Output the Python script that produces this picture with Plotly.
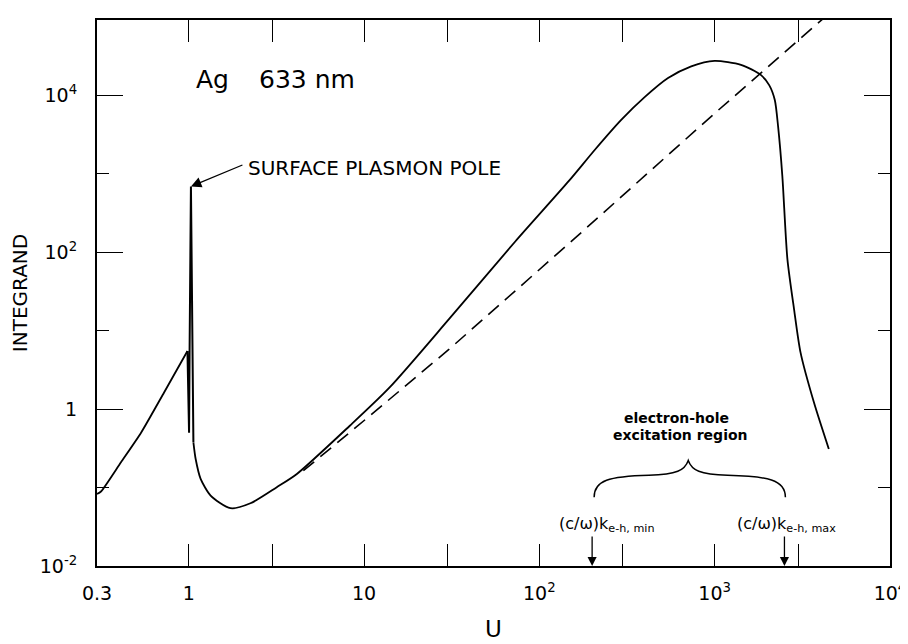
import math
import plotly.graph_objects as go

# ---------------- data ----------------
# integrand below the surface plasmon pole
u_below_pole = [0.30, 0.316, 0.411, 0.535, 0.724, 0.984]
I_below_pole = [0.083, 0.089, 0.21, 0.50, 1.63, 5.5]

# the pole itself (narrow spike)
u_pole = [0.984, 1.005, 1.012, 1.030, 1.064]
I_pole = [5.5, 0.5, 5.5, 690, 0.377]

# integrand above the pole
u_above_pole = [1.064, 1.096, 1.17, 1.334, 1.73, 2.25, 3.18, 4.14, 8.3, 14.0,
                30.6, 73.1, 147, 208, 294, 400, 542, 735, 998, 1413, 1832,
                2046, 2203, 2301, 2432, 2600, 2838, 3090, 3681, 4477]
I_above_pole = [0.377, 0.231, 0.129, 0.079, 0.0546, 0.063, 0.101, 0.149, 0.614, 1.89,
                14.1, 138, 804, 2040, 4900, 9550, 16600, 23400, 27500, 24500, 18200,
                13500, 8710, 3980, 933, 81, 18.6, 5.25, 1.22, 0.31]

# dashed asymptote
u_asym = [4.51, 10.8, 30.6, 156.7, 1000, 3681, 4169]
I_asym = [0.164, 0.822, 5.8, 145.5, 5890, 74100, 95500]

# electron-hole excitation limits
k_eh_min = 200
k_eh_max = 2500

x_tickvals = [0.3, 1, 10, 100, 1000, 10000]
x_ticktext = ['0.3', '1', '10', '10<sup>2</sup>', '10<sup>3</sup>', '10<sup>4</sup>']
x_minor_vals = [3, 30, 300, 3000]
y_tickvals = [1e-2, 1, 1e2, 1e4]
y_ticktext = ['10<sup>-2</sup>', '1', '10<sup>2</sup>', '10<sup>4</sup>']
y_minor_vals = [1e-1, 10, 1e3]

# ---------------- layout geometry ----------------
W, H = 908, 644
L, R, T, B = 86, 26, 10, 86
PW, PH = W - L - R, H - T - B


def paper(px, py):
    return (px - L) / PW, (H - B - py) / PH


FONT = "DejaVu Sans"
fig = go.Figure()

line = dict(color="black", width=1.8)
fig.add_trace(go.Scatter(x=u_below_pole, y=I_below_pole, mode="lines",
                         line=dict(line, shape="spline", smoothing=0.6), showlegend=False))
fig.add_trace(go.Scatter(x=u_pole, y=I_pole, mode="lines",
                         line=dict(color="black", width=2), showlegend=False))
fig.add_trace(go.Scatter(x=u_above_pole, y=I_above_pole, mode="lines",
                         line=dict(line, shape="spline", smoothing=0.7), showlegend=False))
fig.add_trace(go.Scatter(x=u_asym, y=I_asym, mode="lines",
                         line=dict(color="black", width=1.6, dash="14px,8px"),
                         showlegend=False))

ann = []
# "Ag 633 nm"
x0, y0 = paper(183, 70)
ann.append(dict(x=x0, y=y0, xref="paper", yref="paper", text="Ag", showarrow=False,
                xanchor="left", yanchor="middle", font=dict(size=25)))
x0, y0 = paper(247, 70)
ann.append(dict(x=x0, y=y0, xref="paper", yref="paper", text="633 nm", showarrow=False,
                xanchor="left", yanchor="middle", font=dict(size=25)))
# surface plasmon pole label + arrow
x0, y0 = paper(236, 159)
ann.append(dict(x=x0, y=y0, xref="paper", yref="paper", text="SURFACE PLASMON POLE",
                showarrow=False, xanchor="left", yanchor="middle", font=dict(size=20)))
ann.append(dict(x=math.log10(u_pole[3]), y=math.log10(I_pole[3]), xref="x", yref="y",
                text="", showarrow=True, ax=53, ay=-22, arrowhead=2, arrowsize=1.6,
                arrowwidth=1.3, arrowcolor="black", standoff=0))
# electron-hole region
x0, y0 = paper(668, 409)
ann.append(dict(x=x0, y=y0, xref="paper", yref="paper", text="<b>electron-hole</b>",
                showarrow=False, xanchor="center", yanchor="middle", font=dict(size=14)))
x0, y0 = paper(672, 427)
ann.append(dict(x=x0, y=y0, xref="paper", yref="paper", text="<b>excitation region</b>",
                showarrow=False, xanchor="center", yanchor="middle", font=dict(size=14)))
# k labels and arrows
for k, lab, px in [(k_eh_min, "min", 548), (k_eh_max, "max", 726)]:
    x0, y0 = paper(px, 516)
    ann.append(dict(x=x0, y=y0, xref="paper", yref="paper",
                    text="(c/ω)k<sub>e-h, " + lab + "</sub>", showarrow=False,
                    xanchor="left", yanchor="middle", font=dict(size=16)))
    ann.append(dict(x=math.log10(k), y=-2, xref="x", yref="y", text="", showarrow=True,
                    ax=0, ay=-31, arrowhead=2, arrowsize=1.4, arrowwidth=1.3,
                    arrowcolor="black", standoff=0))

# curly brace (pixel geometry converted to paper)
pts = [(585, 489), (585, 472), (600, 468), (640, 467), (668, 466), (676, 462), (679.5, 452),
       (683, 462), (691, 466), (719, 467), (759, 468), (777, 471), (777, 489)]
pp = [paper(a, b) for a, b in pts]
path = "M {:.4f},{:.4f}".format(*pp[0])
for i in range(1, len(pp), 3):
    path += " C {:.4f},{:.4f} {:.4f},{:.4f} {:.4f},{:.4f}".format(*pp[i], *pp[i + 1], *pp[i + 2])
shapes = [dict(type="path", path=path, xref="paper", yref="paper",
               line=dict(color="black", width=1.5))]

fig.update_layout(
    width=W, height=H,
    margin=dict(l=L, r=R, t=T, b=B, pad=0),
    paper_bgcolor="white", plot_bgcolor="white",
    font=dict(family=FONT, color="black", size=18),
    annotations=ann, shapes=shapes,
    xaxis=dict(type="log", range=[math.log10(0.3), 4], tickvals=x_tickvals,
               ticktext=x_ticktext, ticks="inside", ticklen=22, tickwidth=1.3,
               tickcolor="black", showline=True, linewidth=2, linecolor="black",
               minor=dict(tickmode="array", tickvals=x_minor_vals, ticks="inside",
                          ticklen=22, tickwidth=1.3, tickcolor="black", showgrid=False),
               mirror="ticks", showgrid=False, zeroline=False,
               tickfont=dict(size=19), ticklabelstandoff=9,
               title=dict(text="U", font=dict(size=23), standoff=18)),
    yaxis=dict(type="log", range=[-2, 4.96], tickvals=y_tickvals, ticktext=y_ticktext,
               ticks="inside", ticklen=26, tickwidth=1.3, tickcolor="black",
               minor=dict(tickmode="array", tickvals=y_minor_vals, ticks="inside",
                          ticklen=12, tickwidth=1.3, tickcolor="black", showgrid=False),
               showline=True, linewidth=2, linecolor="black", mirror="ticks",
               showgrid=False, zeroline=False, tickfont=dict(size=19),
               ticklabelstandoff=14,
               title=dict(text="INTEGRAND", font=dict(size=20), standoff=8)),
)

fig.write_html("out.html")
